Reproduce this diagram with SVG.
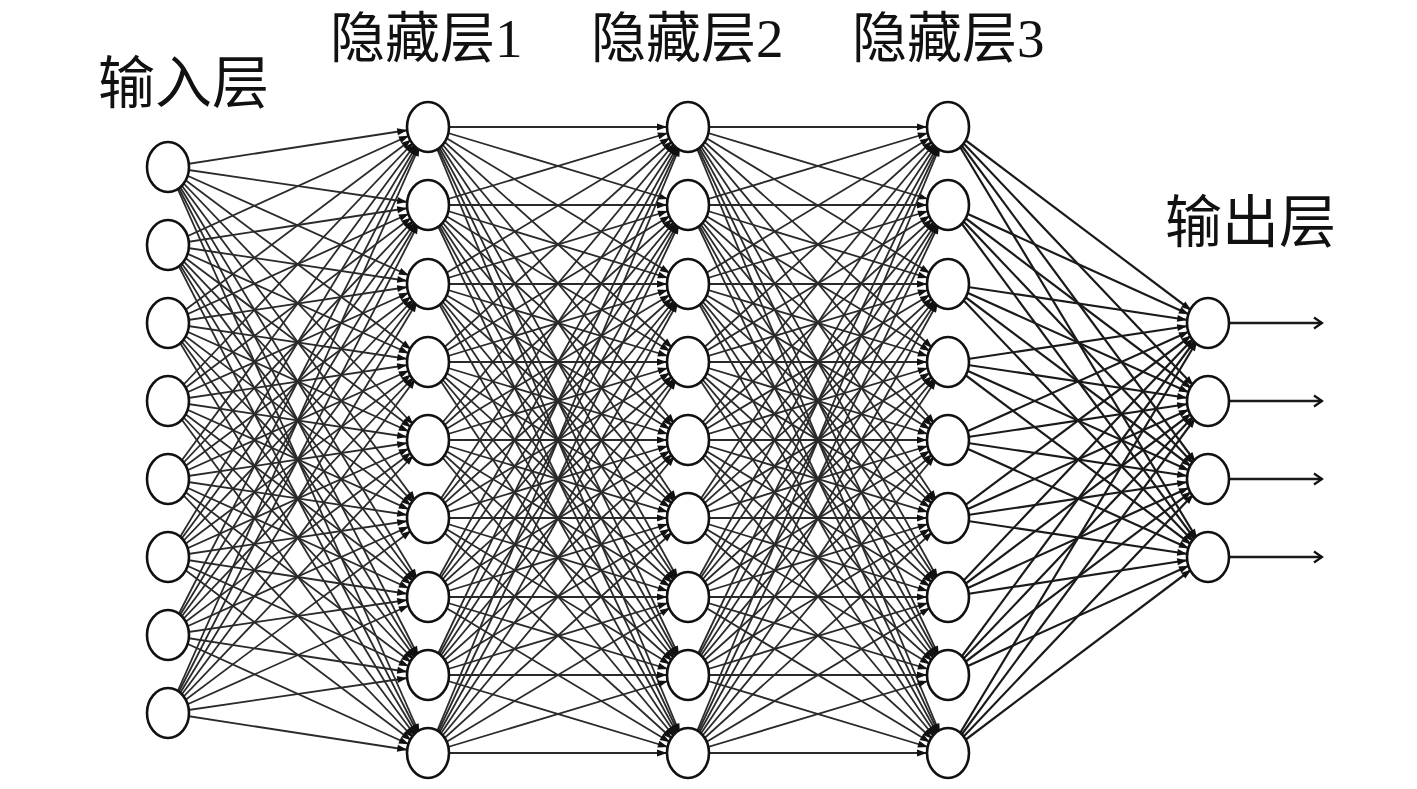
<svg xmlns="http://www.w3.org/2000/svg" width="1417" height="789" viewBox="0 0 1417 789">
<style>
.bg{fill:#fff}
.c line{stroke:#2a2a2a;stroke-width:1.8;marker-end:url(#a)}
.c .o line{stroke:#1a1a1a;stroke-width:2.2}
.out line{stroke:#1a1a1a;stroke-width:2.6;marker-end:url(#b)}
.n ellipse{fill:#fff;stroke:#111;stroke-width:2.6}
.t{font-family:"Liberation Serif","Noto Sans CJK SC",serif;fill:#111}
</style>
<defs>
<marker id="a" markerUnits="userSpaceOnUse" markerWidth="10" markerHeight="10" refX="31" refY="5" orient="auto" overflow="visible"><path d="M0,1.5 L10,5 L0,8.5 z" fill="#111"/></marker>
<marker id="b" markerUnits="userSpaceOnUse" markerWidth="10" markerHeight="12" refX="9" refY="6" orient="auto" overflow="visible"><path d="M1,0.5 L9,6 L1,11.5" fill="none" stroke="#111" stroke-width="2.2"/></marker>
</defs>
<rect class="bg" width="1417" height="789"/>
<g class="c" id="connectors">
<g id="in-h1">
<line x1="168" y1="167" x2="428" y2="127"/><line x1="168" y1="167" x2="428" y2="205"/><line x1="168" y1="167" x2="428" y2="284"/><line x1="168" y1="167" x2="428" y2="362"/><line x1="168" y1="167" x2="428" y2="440"/><line x1="168" y1="167" x2="428" y2="518"/><line x1="168" y1="167" x2="428" y2="597"/><line x1="168" y1="167" x2="428" y2="675"/><line x1="168" y1="167" x2="428" y2="753"/>
<line x1="168" y1="245" x2="428" y2="127"/><line x1="168" y1="245" x2="428" y2="205"/><line x1="168" y1="245" x2="428" y2="284"/><line x1="168" y1="245" x2="428" y2="362"/><line x1="168" y1="245" x2="428" y2="440"/><line x1="168" y1="245" x2="428" y2="518"/><line x1="168" y1="245" x2="428" y2="597"/><line x1="168" y1="245" x2="428" y2="675"/><line x1="168" y1="245" x2="428" y2="753"/>
<line x1="168" y1="323" x2="428" y2="127"/><line x1="168" y1="323" x2="428" y2="205"/><line x1="168" y1="323" x2="428" y2="284"/><line x1="168" y1="323" x2="428" y2="362"/><line x1="168" y1="323" x2="428" y2="440"/><line x1="168" y1="323" x2="428" y2="518"/><line x1="168" y1="323" x2="428" y2="597"/><line x1="168" y1="323" x2="428" y2="675"/><line x1="168" y1="323" x2="428" y2="753"/>
<line x1="168" y1="401" x2="428" y2="127"/><line x1="168" y1="401" x2="428" y2="205"/><line x1="168" y1="401" x2="428" y2="284"/><line x1="168" y1="401" x2="428" y2="362"/><line x1="168" y1="401" x2="428" y2="440"/><line x1="168" y1="401" x2="428" y2="518"/><line x1="168" y1="401" x2="428" y2="597"/><line x1="168" y1="401" x2="428" y2="675"/><line x1="168" y1="401" x2="428" y2="753"/>
<line x1="168" y1="479" x2="428" y2="127"/><line x1="168" y1="479" x2="428" y2="205"/><line x1="168" y1="479" x2="428" y2="284"/><line x1="168" y1="479" x2="428" y2="362"/><line x1="168" y1="479" x2="428" y2="440"/><line x1="168" y1="479" x2="428" y2="518"/><line x1="168" y1="479" x2="428" y2="597"/><line x1="168" y1="479" x2="428" y2="675"/><line x1="168" y1="479" x2="428" y2="753"/>
<line x1="168" y1="557" x2="428" y2="127"/><line x1="168" y1="557" x2="428" y2="205"/><line x1="168" y1="557" x2="428" y2="284"/><line x1="168" y1="557" x2="428" y2="362"/><line x1="168" y1="557" x2="428" y2="440"/><line x1="168" y1="557" x2="428" y2="518"/><line x1="168" y1="557" x2="428" y2="597"/><line x1="168" y1="557" x2="428" y2="675"/><line x1="168" y1="557" x2="428" y2="753"/>
<line x1="168" y1="635" x2="428" y2="127"/><line x1="168" y1="635" x2="428" y2="205"/><line x1="168" y1="635" x2="428" y2="284"/><line x1="168" y1="635" x2="428" y2="362"/><line x1="168" y1="635" x2="428" y2="440"/><line x1="168" y1="635" x2="428" y2="518"/><line x1="168" y1="635" x2="428" y2="597"/><line x1="168" y1="635" x2="428" y2="675"/><line x1="168" y1="635" x2="428" y2="753"/>
<line x1="168" y1="713" x2="428" y2="127"/><line x1="168" y1="713" x2="428" y2="205"/><line x1="168" y1="713" x2="428" y2="284"/><line x1="168" y1="713" x2="428" y2="362"/><line x1="168" y1="713" x2="428" y2="440"/><line x1="168" y1="713" x2="428" y2="518"/><line x1="168" y1="713" x2="428" y2="597"/><line x1="168" y1="713" x2="428" y2="675"/><line x1="168" y1="713" x2="428" y2="753"/>
</g>
<g id="h1-h2">
<line x1="428" y1="127" x2="688" y2="127"/><line x1="428" y1="127" x2="688" y2="205"/><line x1="428" y1="127" x2="688" y2="284"/><line x1="428" y1="127" x2="688" y2="362"/><line x1="428" y1="127" x2="688" y2="440"/><line x1="428" y1="127" x2="688" y2="518"/><line x1="428" y1="127" x2="688" y2="597"/><line x1="428" y1="127" x2="688" y2="675"/><line x1="428" y1="127" x2="688" y2="753"/>
<line x1="428" y1="205" x2="688" y2="127"/><line x1="428" y1="205" x2="688" y2="205"/><line x1="428" y1="205" x2="688" y2="284"/><line x1="428" y1="205" x2="688" y2="362"/><line x1="428" y1="205" x2="688" y2="440"/><line x1="428" y1="205" x2="688" y2="518"/><line x1="428" y1="205" x2="688" y2="597"/><line x1="428" y1="205" x2="688" y2="675"/><line x1="428" y1="205" x2="688" y2="753"/>
<line x1="428" y1="284" x2="688" y2="127"/><line x1="428" y1="284" x2="688" y2="205"/><line x1="428" y1="284" x2="688" y2="284"/><line x1="428" y1="284" x2="688" y2="362"/><line x1="428" y1="284" x2="688" y2="440"/><line x1="428" y1="284" x2="688" y2="518"/><line x1="428" y1="284" x2="688" y2="597"/><line x1="428" y1="284" x2="688" y2="675"/><line x1="428" y1="284" x2="688" y2="753"/>
<line x1="428" y1="362" x2="688" y2="127"/><line x1="428" y1="362" x2="688" y2="205"/><line x1="428" y1="362" x2="688" y2="284"/><line x1="428" y1="362" x2="688" y2="362"/><line x1="428" y1="362" x2="688" y2="440"/><line x1="428" y1="362" x2="688" y2="518"/><line x1="428" y1="362" x2="688" y2="597"/><line x1="428" y1="362" x2="688" y2="675"/><line x1="428" y1="362" x2="688" y2="753"/>
<line x1="428" y1="440" x2="688" y2="127"/><line x1="428" y1="440" x2="688" y2="205"/><line x1="428" y1="440" x2="688" y2="284"/><line x1="428" y1="440" x2="688" y2="362"/><line x1="428" y1="440" x2="688" y2="440"/><line x1="428" y1="440" x2="688" y2="518"/><line x1="428" y1="440" x2="688" y2="597"/><line x1="428" y1="440" x2="688" y2="675"/><line x1="428" y1="440" x2="688" y2="753"/>
<line x1="428" y1="518" x2="688" y2="127"/><line x1="428" y1="518" x2="688" y2="205"/><line x1="428" y1="518" x2="688" y2="284"/><line x1="428" y1="518" x2="688" y2="362"/><line x1="428" y1="518" x2="688" y2="440"/><line x1="428" y1="518" x2="688" y2="518"/><line x1="428" y1="518" x2="688" y2="597"/><line x1="428" y1="518" x2="688" y2="675"/><line x1="428" y1="518" x2="688" y2="753"/>
<line x1="428" y1="597" x2="688" y2="127"/><line x1="428" y1="597" x2="688" y2="205"/><line x1="428" y1="597" x2="688" y2="284"/><line x1="428" y1="597" x2="688" y2="362"/><line x1="428" y1="597" x2="688" y2="440"/><line x1="428" y1="597" x2="688" y2="518"/><line x1="428" y1="597" x2="688" y2="597"/><line x1="428" y1="597" x2="688" y2="675"/><line x1="428" y1="597" x2="688" y2="753"/>
<line x1="428" y1="675" x2="688" y2="127"/><line x1="428" y1="675" x2="688" y2="205"/><line x1="428" y1="675" x2="688" y2="284"/><line x1="428" y1="675" x2="688" y2="362"/><line x1="428" y1="675" x2="688" y2="440"/><line x1="428" y1="675" x2="688" y2="518"/><line x1="428" y1="675" x2="688" y2="597"/><line x1="428" y1="675" x2="688" y2="675"/><line x1="428" y1="675" x2="688" y2="753"/>
<line x1="428" y1="753" x2="688" y2="127"/><line x1="428" y1="753" x2="688" y2="205"/><line x1="428" y1="753" x2="688" y2="284"/><line x1="428" y1="753" x2="688" y2="362"/><line x1="428" y1="753" x2="688" y2="440"/><line x1="428" y1="753" x2="688" y2="518"/><line x1="428" y1="753" x2="688" y2="597"/><line x1="428" y1="753" x2="688" y2="675"/><line x1="428" y1="753" x2="688" y2="753"/>
</g>
<g id="h2-h3">
<line x1="688" y1="127" x2="948" y2="127"/><line x1="688" y1="127" x2="948" y2="205"/><line x1="688" y1="127" x2="948" y2="284"/><line x1="688" y1="127" x2="948" y2="362"/><line x1="688" y1="127" x2="948" y2="440"/><line x1="688" y1="127" x2="948" y2="518"/><line x1="688" y1="127" x2="948" y2="597"/><line x1="688" y1="127" x2="948" y2="675"/><line x1="688" y1="127" x2="948" y2="753"/>
<line x1="688" y1="205" x2="948" y2="127"/><line x1="688" y1="205" x2="948" y2="205"/><line x1="688" y1="205" x2="948" y2="284"/><line x1="688" y1="205" x2="948" y2="362"/><line x1="688" y1="205" x2="948" y2="440"/><line x1="688" y1="205" x2="948" y2="518"/><line x1="688" y1="205" x2="948" y2="597"/><line x1="688" y1="205" x2="948" y2="675"/><line x1="688" y1="205" x2="948" y2="753"/>
<line x1="688" y1="284" x2="948" y2="127"/><line x1="688" y1="284" x2="948" y2="205"/><line x1="688" y1="284" x2="948" y2="284"/><line x1="688" y1="284" x2="948" y2="362"/><line x1="688" y1="284" x2="948" y2="440"/><line x1="688" y1="284" x2="948" y2="518"/><line x1="688" y1="284" x2="948" y2="597"/><line x1="688" y1="284" x2="948" y2="675"/><line x1="688" y1="284" x2="948" y2="753"/>
<line x1="688" y1="362" x2="948" y2="127"/><line x1="688" y1="362" x2="948" y2="205"/><line x1="688" y1="362" x2="948" y2="284"/><line x1="688" y1="362" x2="948" y2="362"/><line x1="688" y1="362" x2="948" y2="440"/><line x1="688" y1="362" x2="948" y2="518"/><line x1="688" y1="362" x2="948" y2="597"/><line x1="688" y1="362" x2="948" y2="675"/><line x1="688" y1="362" x2="948" y2="753"/>
<line x1="688" y1="440" x2="948" y2="127"/><line x1="688" y1="440" x2="948" y2="205"/><line x1="688" y1="440" x2="948" y2="284"/><line x1="688" y1="440" x2="948" y2="362"/><line x1="688" y1="440" x2="948" y2="440"/><line x1="688" y1="440" x2="948" y2="518"/><line x1="688" y1="440" x2="948" y2="597"/><line x1="688" y1="440" x2="948" y2="675"/><line x1="688" y1="440" x2="948" y2="753"/>
<line x1="688" y1="518" x2="948" y2="127"/><line x1="688" y1="518" x2="948" y2="205"/><line x1="688" y1="518" x2="948" y2="284"/><line x1="688" y1="518" x2="948" y2="362"/><line x1="688" y1="518" x2="948" y2="440"/><line x1="688" y1="518" x2="948" y2="518"/><line x1="688" y1="518" x2="948" y2="597"/><line x1="688" y1="518" x2="948" y2="675"/><line x1="688" y1="518" x2="948" y2="753"/>
<line x1="688" y1="597" x2="948" y2="127"/><line x1="688" y1="597" x2="948" y2="205"/><line x1="688" y1="597" x2="948" y2="284"/><line x1="688" y1="597" x2="948" y2="362"/><line x1="688" y1="597" x2="948" y2="440"/><line x1="688" y1="597" x2="948" y2="518"/><line x1="688" y1="597" x2="948" y2="597"/><line x1="688" y1="597" x2="948" y2="675"/><line x1="688" y1="597" x2="948" y2="753"/>
<line x1="688" y1="675" x2="948" y2="127"/><line x1="688" y1="675" x2="948" y2="205"/><line x1="688" y1="675" x2="948" y2="284"/><line x1="688" y1="675" x2="948" y2="362"/><line x1="688" y1="675" x2="948" y2="440"/><line x1="688" y1="675" x2="948" y2="518"/><line x1="688" y1="675" x2="948" y2="597"/><line x1="688" y1="675" x2="948" y2="675"/><line x1="688" y1="675" x2="948" y2="753"/>
<line x1="688" y1="753" x2="948" y2="127"/><line x1="688" y1="753" x2="948" y2="205"/><line x1="688" y1="753" x2="948" y2="284"/><line x1="688" y1="753" x2="948" y2="362"/><line x1="688" y1="753" x2="948" y2="440"/><line x1="688" y1="753" x2="948" y2="518"/><line x1="688" y1="753" x2="948" y2="597"/><line x1="688" y1="753" x2="948" y2="675"/><line x1="688" y1="753" x2="948" y2="753"/>
</g>
<g id="h3-out" class="o">
<line x1="948" y1="127" x2="1208" y2="323"/><line x1="948" y1="127" x2="1208" y2="401"/><line x1="948" y1="127" x2="1208" y2="479"/><line x1="948" y1="127" x2="1208" y2="557"/>
<line x1="948" y1="205" x2="1208" y2="323"/><line x1="948" y1="205" x2="1208" y2="401"/><line x1="948" y1="205" x2="1208" y2="479"/><line x1="948" y1="205" x2="1208" y2="557"/>
<line x1="948" y1="284" x2="1208" y2="323"/><line x1="948" y1="284" x2="1208" y2="401"/><line x1="948" y1="284" x2="1208" y2="479"/><line x1="948" y1="284" x2="1208" y2="557"/>
<line x1="948" y1="362" x2="1208" y2="323"/><line x1="948" y1="362" x2="1208" y2="401"/><line x1="948" y1="362" x2="1208" y2="479"/><line x1="948" y1="362" x2="1208" y2="557"/>
<line x1="948" y1="440" x2="1208" y2="323"/><line x1="948" y1="440" x2="1208" y2="401"/><line x1="948" y1="440" x2="1208" y2="479"/><line x1="948" y1="440" x2="1208" y2="557"/>
<line x1="948" y1="518" x2="1208" y2="323"/><line x1="948" y1="518" x2="1208" y2="401"/><line x1="948" y1="518" x2="1208" y2="479"/><line x1="948" y1="518" x2="1208" y2="557"/>
<line x1="948" y1="597" x2="1208" y2="323"/><line x1="948" y1="597" x2="1208" y2="401"/><line x1="948" y1="597" x2="1208" y2="479"/><line x1="948" y1="597" x2="1208" y2="557"/>
<line x1="948" y1="675" x2="1208" y2="323"/><line x1="948" y1="675" x2="1208" y2="401"/><line x1="948" y1="675" x2="1208" y2="479"/><line x1="948" y1="675" x2="1208" y2="557"/>
<line x1="948" y1="753" x2="1208" y2="323"/><line x1="948" y1="753" x2="1208" y2="401"/><line x1="948" y1="753" x2="1208" y2="479"/><line x1="948" y1="753" x2="1208" y2="557"/>
</g>
</g>
<g class="out" id="outputs">
<line x1="1230" y1="323" x2="1322" y2="323"/>
<line x1="1230" y1="401" x2="1322" y2="401"/>
<line x1="1230" y1="479" x2="1322" y2="479"/>
<line x1="1230" y1="557" x2="1322" y2="557"/>
</g>
<g class="n">
<g id="in1"><ellipse cx="168" cy="167" rx="21" ry="25"/></g>
<g id="in2"><ellipse cx="168" cy="245" rx="21" ry="25"/></g>
<g id="in3"><ellipse cx="168" cy="323" rx="21" ry="25"/></g>
<g id="in4"><ellipse cx="168" cy="401" rx="21" ry="25"/></g>
<g id="in5"><ellipse cx="168" cy="479" rx="21" ry="25"/></g>
<g id="in6"><ellipse cx="168" cy="557" rx="21" ry="25"/></g>
<g id="in7"><ellipse cx="168" cy="635" rx="21" ry="25"/></g>
<g id="in8"><ellipse cx="168" cy="713" rx="21" ry="25"/></g>
<g id="h1n1"><ellipse cx="428" cy="127" rx="21" ry="25"/></g>
<g id="h1n2"><ellipse cx="428" cy="205" rx="21" ry="25"/></g>
<g id="h1n3"><ellipse cx="428" cy="284" rx="21" ry="25"/></g>
<g id="h1n4"><ellipse cx="428" cy="362" rx="21" ry="25"/></g>
<g id="h1n5"><ellipse cx="428" cy="440" rx="21" ry="25"/></g>
<g id="h1n6"><ellipse cx="428" cy="518" rx="21" ry="25"/></g>
<g id="h1n7"><ellipse cx="428" cy="597" rx="21" ry="25"/></g>
<g id="h1n8"><ellipse cx="428" cy="675" rx="21" ry="25"/></g>
<g id="h1n9"><ellipse cx="428" cy="753" rx="21" ry="25"/></g>
<g id="h2n1"><ellipse cx="688" cy="127" rx="21" ry="25"/></g>
<g id="h2n2"><ellipse cx="688" cy="205" rx="21" ry="25"/></g>
<g id="h2n3"><ellipse cx="688" cy="284" rx="21" ry="25"/></g>
<g id="h2n4"><ellipse cx="688" cy="362" rx="21" ry="25"/></g>
<g id="h2n5"><ellipse cx="688" cy="440" rx="21" ry="25"/></g>
<g id="h2n6"><ellipse cx="688" cy="518" rx="21" ry="25"/></g>
<g id="h2n7"><ellipse cx="688" cy="597" rx="21" ry="25"/></g>
<g id="h2n8"><ellipse cx="688" cy="675" rx="21" ry="25"/></g>
<g id="h2n9"><ellipse cx="688" cy="753" rx="21" ry="25"/></g>
<g id="h3n1"><ellipse cx="948" cy="127" rx="21" ry="25"/></g>
<g id="h3n2"><ellipse cx="948" cy="205" rx="21" ry="25"/></g>
<g id="h3n3"><ellipse cx="948" cy="284" rx="21" ry="25"/></g>
<g id="h3n4"><ellipse cx="948" cy="362" rx="21" ry="25"/></g>
<g id="h3n5"><ellipse cx="948" cy="440" rx="21" ry="25"/></g>
<g id="h3n6"><ellipse cx="948" cy="518" rx="21" ry="25"/></g>
<g id="h3n7"><ellipse cx="948" cy="597" rx="21" ry="25"/></g>
<g id="h3n8"><ellipse cx="948" cy="675" rx="21" ry="25"/></g>
<g id="h3n9"><ellipse cx="948" cy="753" rx="21" ry="25"/></g>
<g id="out1"><ellipse cx="1208" cy="323" rx="21" ry="25"/></g>
<g id="out2"><ellipse cx="1208" cy="401" rx="21" ry="25"/></g>
<g id="out3"><ellipse cx="1208" cy="479" rx="21" ry="25"/></g>
<g id="out4"><ellipse cx="1208" cy="557" rx="21" ry="25"/></g>
</g>
<g id="labels">
<text class="t" x="98" y="103" font-size="57">输入层</text>
<text class="t" x="330" y="57" font-size="55">隐藏层1</text>
<text class="t" x="591" y="57" font-size="55">隐藏层2</text>
<text class="t" x="852" y="57" font-size="55">隐藏层3</text>
<text class="t" x="1165" y="242" font-size="57">输出层</text>
</g>
</svg>
